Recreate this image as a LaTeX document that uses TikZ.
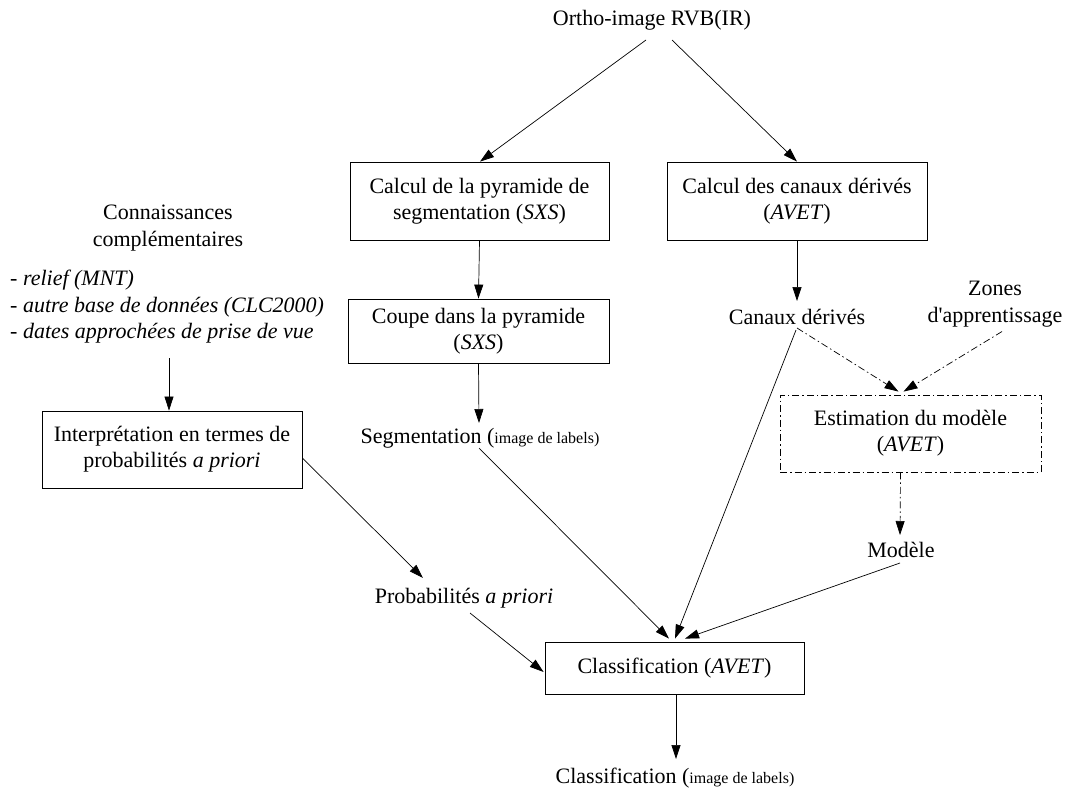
\documentclass[tikz,border=0pt]{standalone}
\usepackage{fontspec}
\setmainfont{Liberation Serif}
\usetikzlibrary{arrows.meta,calc}
\newcommand{\smalltxt}{\fontsize{16}{19}\selectfont}
\tikzset{
  txt/.style={font=\fontsize{22}{27}\selectfont, inner sep=0pt, align=center},
  box/.style 2 args={draw, line width=0.8pt, minimum width=#1, minimum height=#2,
    inner sep=0pt, align=center, font=\fontsize{22}{26}\selectfont},
  dd/.style={dash pattern=on 7pt off 3pt on 1.5pt off 3pt},
  arr/.style={-{Triangle[length=14pt,width=9pt]}, line width=0.7pt},
}
\begin{document}
\begin{tikzpicture}[x=1pt,y=-1pt]
\useasboundingbox (0,0) rectangle (1065,793);

% text nodes
\node[txt] (ortho) at (652,20) {Ortho-image RVB(IR)};
\node[txt] (conn) at (168,228.5) {Connaissances\\compl\'ementaires};
\node[txt, align=left, anchor=west, font=\fontsize{22}{26.5}\selectfont] (list) at (10,307)
  {- \textit{relief (MNT)}\\- \textit{autre base de donn\'ees (CLC2000)}\\- \textit{dates approch\'ees de prise de vue}};
\node[txt] (seg) at (480,438) {Segmentation ({\smalltxt image de labels)}};
\node[txt] (canaux) at (797,317) {Canaux d\'eriv\'es};
\node[txt] (zones) at (995,304.5) {Zones\\d\textquotesingle apprentissage};
\node[txt] (modele) at (901,550) {Mod\`ele};
\node[txt] (prob) at (464,598) {Probabilit\'es \textit{a priori}};
\node[txt] (classout) at (675,778) {Classification ({\smalltxt image de labels)}};

% boxes
\node[box={259pt}{78pt}] (b1) at (479.5,201) {Calcul de la pyramide de\\segmentation (\textit{SXS})};
\node[box={260pt}{78pt}] (b2) at (797,201) {Calcul des canaux d\'eriv\'es\\(\textit{AVET})};
\node[box={261pt}{64pt}] (b3) at (478.5,331) {Coupe dans la pyramide\\(\textit{SXS})};
\node[box={261pt}{77pt}, dd] (est) at (910.5,433.5) {Estimation du mod\`ele\\(\textit{AVET})};
\node[box={260pt}{77pt}] (interp) at (172,449.5) {Interpr\'etation en termes de\\probabilit\'es \textit{a priori}};
\node[box={259pt}{52pt}] (cls) at (674.5,668) {Classification (\textit{AVET})};

% connectors
\draw[arr] ($(ortho.center)+(-6,20)$) -- ($(b1.north)+(0.5,0)$);
\draw[arr] ($(ortho.center)+(20,20)$) -- (b2.north);
\draw[arr] (b1.south) -- (b3.north);
\draw[arr] (b3.south) -- ($(seg.center)+(-1,-15)$);
\draw[arr] (b2.south) -- ($(canaux.center)+(0,-16)$);
\draw[arr] ($(list.west)+(159,51)$) -- ($(interp.north)+(-3,0)$);
\draw[arr, dd] ($(canaux.center)+(0,11)$) -- ($(est.north)+(-12,-3)$);
\draw[arr, dd] ($(zones.center)+(7,27)$) -- ($(est.north)+(-7,-3)$);
\draw[arr, dd] ($(est.south)+(-10,0)$) -- ($(modele.center)+(-1,-15)$);
\draw[arr] ($(canaux.center)+(-1,13)$) -- ($(cls.north)+(0.5,-3)$);
\draw[arr] ($(seg.center)+(-1,10)$) -- ($(cls.north)+(-5.5,-3)$);
\draw[arr] ($(modele.center)+(-1,13)$) -- ($(cls.north)+(10.5,-3)$);
\draw[arr] ($(interp.east)+(0,8.5)$) -- ($(prob.center)+(-41,-20)$);
\draw[arr] ($(prob.center)+(6,15)$) -- ($(cls.west)+(-1,4)$);
\draw[arr] ($(cls.south)+(1.5,0)$) -- ($(classout.center)+(1,-19)$);
\end{tikzpicture}
\end{document}
